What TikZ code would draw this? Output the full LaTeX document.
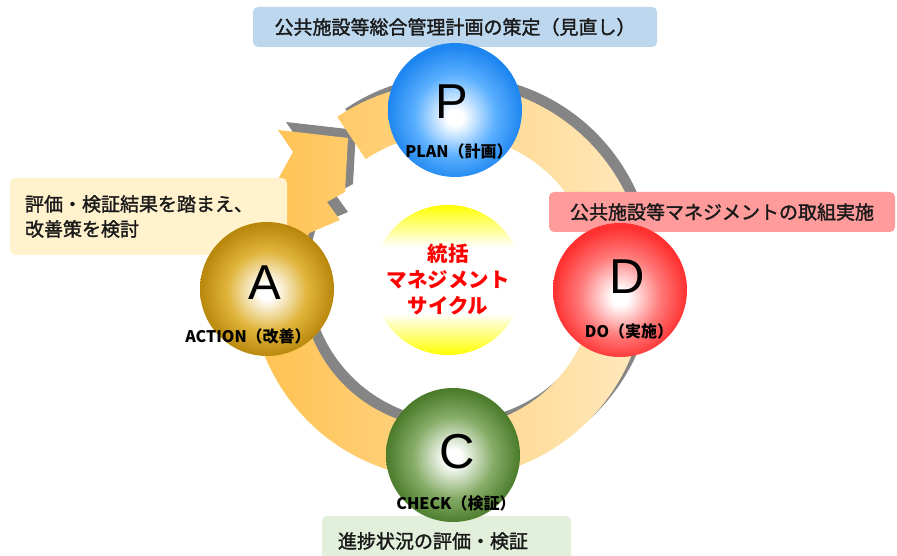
\documentclass[tikz,border=0pt]{standalone}
\usepackage{fontspec}
\setmainfont{Liberation Sans}
\newfontfamily\jp{Noto Sans CJK JP}
\newfontfamily\jpm{Noto Sans CJK JP}[FakeBold=1.6]
\usetikzlibrary{calc}
\definecolor{bandL}{HTML}{FFC04C}
\definecolor{bandR}{HTML}{FFECC6}
\definecolor{shadowc}{HTML}{858585}
\definecolor{boxblue}{HTML}{BDD7EE}
\definecolor{boxcream}{HTML}{FFF2CC}
\definecolor{boxpink}{HTML}{FF9B9B}
\definecolor{boxgreen}{HTML}{E2EFDA}
\definecolor{Pmid}{HTML}{5CB0FF}
\definecolor{Prim}{HTML}{1E86F0}
\definecolor{Dmid}{HTML}{FF7A7A}
\definecolor{Drim}{HTML}{FF3030}
\definecolor{Amid}{HTML}{E0B43A}
\definecolor{Arim}{HTML}{B8870C}
\definecolor{Cmid}{HTML}{86AD68}
\definecolor{Crim}{HTML}{4B7B2B}
\definecolor{Ycol}{HTML}{FFFF00}
\definecolor{txtc}{HTML}{1A1A1A}
\pgfdeclareradialshading{ballP}{\pgfpoint{0bp}{-3bp}}{color(0bp)=(white); color(3bp)=(white); color(15bp)=(Pmid); color(25bp)=(Prim); color(50bp)=(Prim)}
\pgfdeclareradialshading{ballD}{\pgfpoint{0bp}{-3bp}}{color(0bp)=(white); color(3bp)=(white); color(15bp)=(Dmid); color(25bp)=(Drim); color(50bp)=(Drim)}
\pgfdeclareradialshading{ballA}{\pgfpoint{0bp}{-1bp}}{color(0bp)=(white); color(3bp)=(white); color(15bp)=(Amid); color(25bp)=(Arim); color(50bp)=(Arim)}
\pgfdeclareradialshading{ballC}{\pgfpoint{0bp}{-1bp}}{color(0bp)=(white); color(3bp)=(white); color(15bp)=(Cmid); color(25bp)=(Crim); color(50bp)=(Crim)}
\pgfdeclareverticalshading{yw}{100bp}{color(0bp)=(Ycol); color(25bp)=(Ycol); color(39bp)=(white); color(61bp)=(white); color(75bp)=(Ycol); color(100bp)=(Ycol)}
\tikzset{
  ringpath/.style={insert path={(124:198) arc[start angle=124,end angle=-210,radius=198]
     -- (-155,129) -- (-170,151) -- (-100,143) -- (-103,89) -- (-121,79) -- (-108,61)
     -- (161:147) arc[start angle=-199,end angle=124,radius=147] -- cycle}},
  ball/.style={circle, minimum size=134, inner sep=0, shade},
  bigletter/.style={inner sep=0, font=\fontsize{49}{49}\selectfont},
  clabel/.style={inner sep=0, text=black, font=\fontsize{16}{16}\jp\bfseries},
  infobox/.style={rounded corners=5, inner sep=0, text=txtc, font=\fontsize{19}{25}\jpm},
}
\begin{document}
\begin{tikzpicture}[x=1pt,y=1pt]
\useasboundingbox (0,0) rectangle (897,556);
\begin{scope}[shift={(448,275)}]
  \fill[shadowc, shift={(8,8)}, ringpath];
  \shade[left color=bandL, right color=bandR, ringpath];
\end{scope}
% center circle
\node[circle, minimum size=150, inner sep=0, shade, shading=yw] (core) at (448,276) {};
\node[inner sep=0, align=center, text=red, font=\fontsize{20.5}{26}\jp\bfseries] (coretxt) at (448,276) {統括\\マネジメント\\サイクル};
% boxes
\node[infobox, fill=boxblue, minimum width=404, minimum height=40] (topbox) at (455,529) {公共施設等総合管理計画の策定（見直し）};
\node[infobox, fill=boxcream, minimum width=277, minimum height=77, text width=247, inner xsep=15, align=left] (leftbox) at (148.5,339.5) {評価・検証結果を踏まえ、\\改善策を検討};
\node[infobox, fill=boxpink, minimum width=346, minimum height=40] (rightbox) at (722,344) {公共施設等マネジメントの取組実施};
\node[infobox, fill=boxgreen, minimum width=249, minimum height=50, text width=217, inner xsep=16, align=left] (botbox) at (446.5,15) {\raisebox{-2pt}{進捗状況の評価・検証}};
% balls
\node[ball, shading=ballP] (P) at (455,446) {};
\node[ball, shading=ballD] (D) at (620,266) {};
\node[ball, shading=ballA] (A) at (267,267) {};
\node[ball, shading=ballC] (C) at (453,101) {};
\node[bigletter] (Pl) at (452,454) {P};
\node[bigletter] (Dl) at (627,279) {D};
\node[bigletter] (Al) at (265,273) {A};
\node[bigletter] (Cl) at (457,104) {C};
\node[clabel] (Pt) at (459,405) {PLAN（計画）};
\node[clabel] (Dt) at (629,225) {DO（実施）};
\node[clabel] (At) at (248,220) {ACTION（改善）};
\node[clabel] (Ct) at (456,53) {CHECK（検証）};
\end{tikzpicture}
\end{document}
